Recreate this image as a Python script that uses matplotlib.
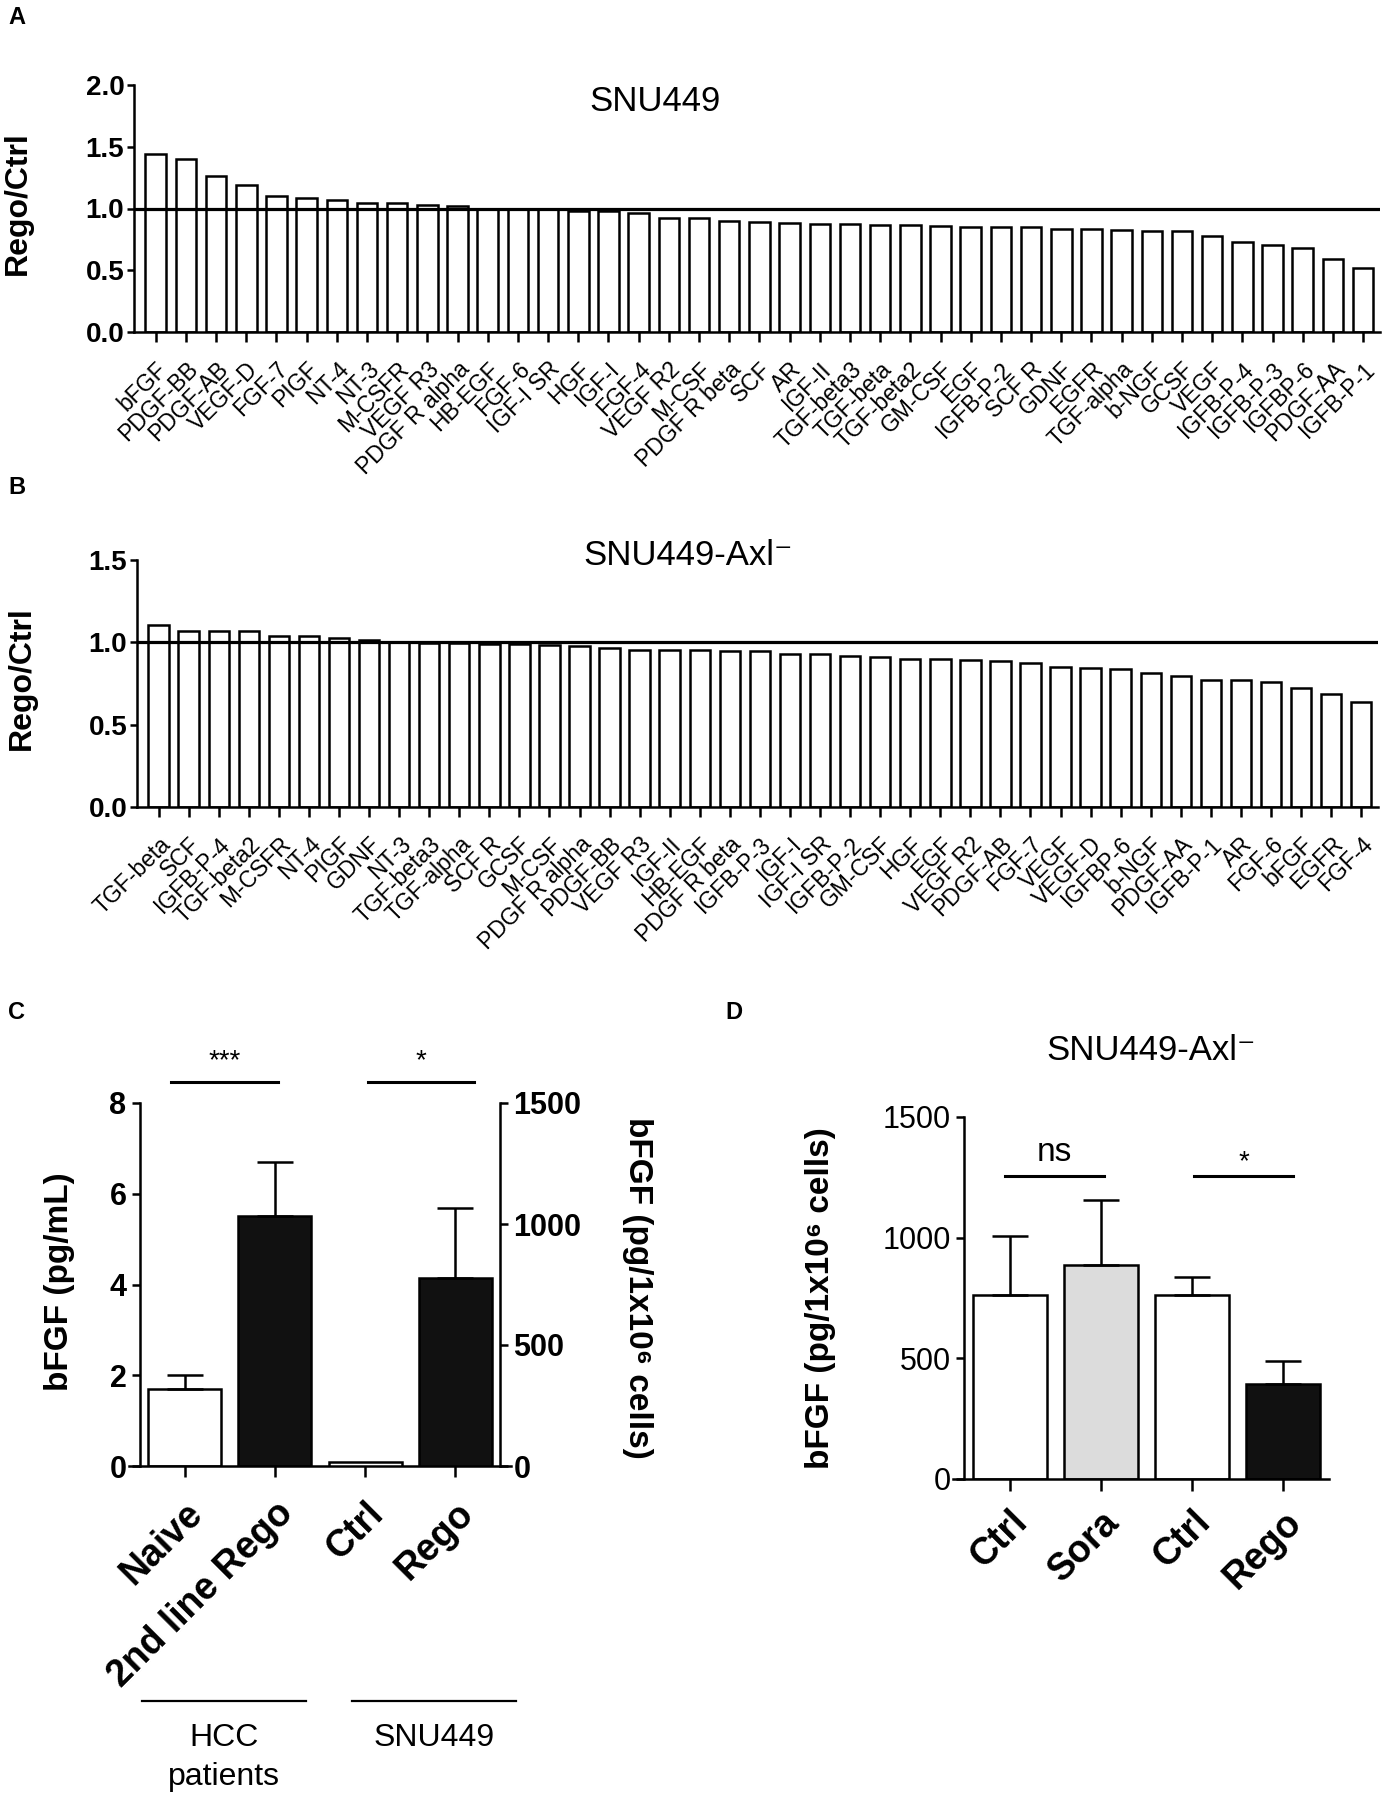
import numpy as np
import matplotlib
matplotlib.use("Agg")
import matplotlib.pyplot as plt
import matplotlib.transforms as mtrans

plt.rcParams['font.family'] = ['Liberation Sans', 'DejaVu Sans']

# panel A: SNU449, Rego/Ctrl ratio
snu_names = ["bFGF", "PDGF-BB", "PDGF-AB", "VEGF-D", "FGF-7", "PIGF", "NT-4", "NT-3",
             "M-CSFR", "VEGF R3", "PDGF R alpha", "HB-EGF", "FGF-6", "IGF-I SR", "HGF",
             "IGF-I", "FGF-4", "VEGF R2", "M-CSF", "PDGF R beta", "SCF", "AR", "IGF-II",
             "TGF-beta3", "TGF-beta", "TGF-beta2", "GM-CSF", "EGF", "IGFB-P-2", "SCF R",
             "GDNF", "EGFR", "TGF-alpha", "b-NGF", "GCSF", "VEGF", "IGFB-P-4", "IGFB-P-3",
             "IGFBP-6", "PDGF-AA", "IGFB-P-1"]
snu_ratio = [1.44, 1.40, 1.26, 1.19, 1.10, 1.085, 1.07, 1.045, 1.045, 1.025, 1.02, 1.0,
             1.0, 1.0, 0.98, 0.98, 0.965, 0.925, 0.92, 0.898, 0.893, 0.885, 0.872, 0.871,
             0.870, 0.866, 0.858, 0.853, 0.85, 0.85, 0.836, 0.834, 0.823, 0.818, 0.817,
             0.777, 0.732, 0.702, 0.684, 0.595, 0.515]

# panel B: SNU449-Axl-, Rego/Ctrl ratio
axl_names = ["TGF-beta", "SCF", "IGFB-P-4", "TGF-beta2", "M-CSFR", "NT-4", "PIGF", "GDNF",
             "NT-3", "TGF-beta3", "TGF-alpha", "SCF R", "GCSF", "M-CSF", "PDGF R alpha",
             "PDGF-BB", "VEGF R3", "IGF-II", "HB-EGF", "PDGF R beta", "IGFB-P-3", "IGF-I",
             "IGF-I SR", "IGFB-P-2", "GM-CSF", "HGF", "EGF", "VEGF R2", "PDGF-AB", "FGF-7",
             "VEGF", "VEGF-D", "IGFBP-6", "b-NGF", "PDGF-AA", "IGFB-P-1", "AR", "FGF-6",
             "bFGF", "EGFR", "FGF-4"]
axl_ratio = [1.103, 1.071, 1.07, 1.067, 1.04, 1.036, 1.026, 1.016, 1.0, 0.997, 0.996,
             0.99, 0.988, 0.984, 0.976, 0.966, 0.956, 0.955, 0.951, 0.947, 0.945, 0.931,
             0.931, 0.919, 0.911, 0.901, 0.899, 0.891, 0.887, 0.874, 0.85, 0.844, 0.84,
             0.814, 0.798, 0.773, 0.769, 0.757, 0.723, 0.688, 0.636]

# panel C
c_labels = ["Naive", "2nd line Rego", "Ctrl", "Rego"]
hcc_mean = [1.7, 5.5]        # pg/mL
hcc_err = [0.3, 1.2]
snu_mean = [15, 775]         # pg/1x10^6 cells
snu_err = [0, 293]

# panel D
d_labels = ["Ctrl", "Sora", "Ctrl", "Rego"]
d_mean = [762, 887, 762, 395]
d_err = [246, 269, 77, 96]
d_colors = ["white", "#dcdcdc", "white", "#111111"]

LW = 1.8
W, H = 1390, 1805


def box(l, t, r, b):
    return [l / W, 1 - b / H, (r - l) / W, (b - t) / H]


def style(ax, tick_fs):
    for s in ["top", "right"]:
        ax.spines[s].set_visible(False)
    for s in ["left", "bottom"]:
        ax.spines[s].set_linewidth(LW)
    ax.tick_params(width=LW, length=5, labelsize=tick_fs)
    for t in ax.get_yticklabels():
        t.set_fontweight("bold")


def ratio_panel(ax, names, vals, ymax, ticks, title, tx, ty):
    x = np.arange(len(names))
    ax.bar(x, vals, width=0.68, color="white", edgecolor="black", linewidth=LW)
    ax.axhline(1.0, color="black", lw=2.3)
    ax.set_xlim(-0.72, len(names) - 1 + 0.56)
    ax.set_ylim(0, ymax)
    ax.set_yticks(ticks)
    ax.set_yticklabels(["%.1f" % t for t in ticks])
    ax.set_xticks(x)
    ax.set_xticklabels(names, rotation=45, ha="right", va="top",
                       rotation_mode="anchor", fontsize=16.5)
    style(ax, 20)
    ax.tick_params(axis="x", length=7, pad=11.5, labelsize=16.5)
    ax.tick_params(axis="y", pad=2)
    ax.set_ylabel("Rego/Ctrl", fontsize=23, fontweight="bold")
    ax.yaxis.set_label_coords(-0.081, 0.52)
    ax.text(tx, ty, title, transform=ax.transAxes, ha="center", va="center", fontsize=25)


fig = plt.figure(figsize=(13.9, 18.05), dpi=100)

axA = fig.add_axes(box(134, 85, 1380, 332))
ratio_panel(axA, snu_names, snu_ratio, 2.0, [0, 0.5, 1.0, 1.5, 2.0], "SNU449", 0.418, 0.935)

axB = fig.add_axes(box(137, 560, 1378, 807))
ratio_panel(axB, axl_names, axl_ratio, 1.5, [0, 0.5, 1.0, 1.5], "SNU449-Axl\u207b", 0.444, 1.02)

# panel C
axC = fig.add_axes(box(129, 1103, 511, 1466))
axC2 = axC.twinx()
xc = np.arange(len(c_labels))
axC.bar(xc[:2], hcc_mean, width=0.81, color=["white", "#111111"], edgecolor="black",
        linewidth=LW, zorder=2)
axC.errorbar(xc[:2], hcc_mean, yerr=[np.zeros(2), hcc_err], fmt="none", ecolor="black",
             elinewidth=LW, capsize=13, capthick=LW, zorder=3)
axC2.bar(xc[2:], snu_mean, width=0.81, color=["white", "#111111"], edgecolor="black",
         linewidth=LW, zorder=2)
axC2.errorbar(xc[3:], snu_mean[1:], yerr=[np.zeros(1), snu_err[1:]], fmt="none",
              ecolor="black", elinewidth=LW, capsize=13, capthick=LW, zorder=3)
axC.set_xlim(-0.62, 3.62)
axC.set_ylim(0, 8)
axC2.set_ylim(0, 1500)
axC.set_yticks([0, 2, 4, 6, 8])
axC2.set_yticks([0, 500, 1000, 1500])
axC.spines["left"].set_position(("data", -0.5))
axC2.spines["right"].set_position(("data", 3.5))
for s in ["top", "right"]:
    axC.spines[s].set_visible(False)
for s in ["top", "left", "bottom"]:
    axC2.spines[s].set_visible(False)
axC.spines["left"].set_linewidth(LW)
axC.spines["bottom"].set_linewidth(LW)
axC2.spines["right"].set_linewidth(LW)
axC.tick_params(width=LW, length=6, labelsize=22)
axC2.tick_params(width=LW, length=6, labelsize=22)
axC.tick_params(axis="x", length=8, pad=13)
axC.set_xticks(xc)
axC.set_xticklabels(c_labels, rotation=45, ha="right", va="top",
                    rotation_mode="anchor", fontsize=27, fontweight="bold")
for t in axC.get_yticklabels() + axC2.get_yticklabels():
    t.set_fontweight("bold")
axC.set_ylabel("bFGF (pg/mL)", fontsize=24, fontweight="bold")
axC.yaxis.set_label_coords(-0.141, 0.507)
axC2.set_ylabel("bFGF (pg/1x10\u2076 cells)", fontsize=24, fontweight="bold", rotation=270,
                va="center")
axC2.yaxis.set_label_coords(1.33, 0.49)

# significance bars C
for x0, x1, lab in [(-0.15, 1.03, "***"), (2.03, 3.21, "*")]:
    axC.plot([x0, x1], [8.46, 8.46], color="black", lw=2.2, clip_on=False)
    axC.text((x0 + x1) / 2, 8.76, lab, ha="center", va="baseline", fontsize=20)

# group labels under C
tr = mtrans.blended_transform_factory(axC.transData, axC.transAxes)
for x0, x1, lines in [(-0.48, 1.34, ["HCC", "patients"]), (1.86, 3.68, ["SNU449"])]:
    axC.plot([x0, x1], [-0.647, -0.647], color="black", lw=1.6, transform=tr, clip_on=False)
    for i, s in enumerate(lines):
        axC.text((x0 + x1) / 2, -0.749 - 0.108 * i, s, transform=tr, ha="center",
                 va="center", fontsize=23)

# panel D
axD = fig.add_axes(box(953, 1117, 1329, 1479))
xd = np.arange(len(d_labels))
axD.bar(xd, d_mean, width=0.81, color=d_colors, edgecolor="black", linewidth=LW, zorder=2)
axD.errorbar(xd, d_mean, yerr=[np.zeros(4), d_err], fmt="none", ecolor="black",
             elinewidth=LW, capsize=13, capthick=LW, zorder=3)
axD.set_xlim(-0.62, 3.5)
axD.set_ylim(0, 1500)
axD.set_yticks([0, 500, 1000, 1500])
style(axD, 22)
axD.spines["left"].set_position(("data", -0.5))
axD.tick_params(axis="x", length=8.5, pad=9.5)
axD.tick_params(axis="y", length=6)
axD.set_xticks(xd)
axD.set_xticklabels(d_labels, rotation=45, ha="right", va="top",
                    rotation_mode="anchor", fontsize=27, fontweight="bold")
axD.set_ylabel("bFGF (pg/1x10\u2076 cells)", fontsize=24, fontweight="bold")
axD.yaxis.set_label_coords(-0.311, 0.5)
axD.text(0.527, 1.185, "SNU449-Axl\u207b", transform=axD.transAxes, ha="center",
         va="center", fontsize=25)
for x0, x1, lab, fs, yy in [(-0.05, 1.03, "ns", 24, 1352), (2.02, 3.11, "*", 20, 1285)]:
    axD.plot([x0, x1], [1256, 1256], color="black", lw=2.2, clip_on=False)
    axD.text((x0 + x1) / 2, yy, lab, ha="center", va="center" if lab == "ns" else "baseline",
             fontsize=fs)

# panel letters
for s, (px, py) in {"A": (8, 17), "B": (8, 488), "C": (8, 1012), "D": (725, 1012)}.items():
    fig.text(px / W, 1 - py / H, s, fontsize=17, fontweight="bold", va="center")

fig.savefig("out.png", dpi=100)
